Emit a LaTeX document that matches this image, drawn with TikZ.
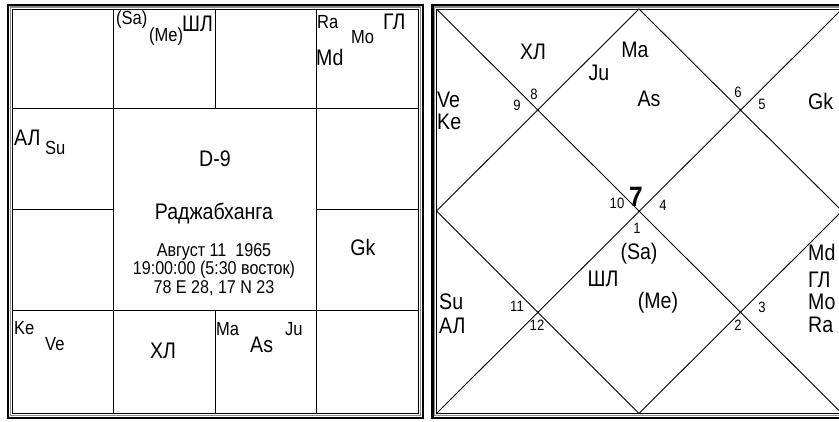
\documentclass[tikz,border=0pt]{standalone}
\usepackage{fontspec}
\setmainfont{Liberation Sans}[FakeStretch=0.87]
\begin{document}
\begin{tikzpicture}[x=1pt,y=-1pt,
  gridline/.style={line width=0.9pt, black},
  frameout/.style={line width=2.2pt, black},
  framegrey/.style={line width=1.6pt, black!45},
  framein/.style={line width=1pt, black},
  sm/.style={font=\fontsize{19}{19}\selectfont, inner sep=0pt},
  bg/.style={font=\fontsize{22.5}{22.5}\selectfont, inner sep=0pt},
  ttl/.style={font=\fontsize{22.5}{22.5}\selectfont, inner sep=0pt},
  dt/.style={font=\fontsize{18.5}{18.5}\selectfont, inner sep=0pt},
  num/.style={font=\fontsize{15}{15}\selectfont, inner sep=0pt},
  big/.style={font=\fontsize{28}{28}\selectfont\bfseries, inner sep=0pt},
  dot/.style={circle, fill=black, inner sep=0pt, minimum size=2.4pt}]
\useasboundingbox (0,0) rectangle (839,421);
\fill[white] (0,0) rectangle (839,421);
% ---------- left chart frame ----------
\draw[frameout] (8,5) rectangle (423,418);
\draw[framegrey] (10.4,7.2) rectangle (420.6,415.6);
\draw[framein] (12.5,9) rectangle (418.5,413.5);
% grid
\draw[gridline] (12.5,108.5) -- (418.5,108.5);
\draw[gridline] (12.5,310) -- (418.5,310);
\draw[gridline] (12.5,209) -- (113.5,209);
\draw[gridline] (316.5,209) -- (418.5,209);
\draw[gridline] (113.5,9) -- (113.5,413.5);
\draw[gridline] (316.5,9) -- (316.5,413.5);
\draw[gridline] (215,9) -- (215,108.5);
\draw[gridline] (215,310) -- (215,413.5);
% ---------- right chart frame ----------
\draw[frameout] (432.5,5) rectangle (849,418);
\draw[framegrey] (434.4,7.2) rectangle (847,415.6);
\draw[framein] (436.5,9) rectangle (845,413.5);
\draw[gridline] (436.5,9) -- (842,413.5);
\draw[gridline] (842,9) -- (436.5,413.5);
\draw[gridline] (639,9) -- (842,211) -- (639,413.5) -- (436.5,211) -- cycle;
\node[dot] (d1) at (538,110) {};
\node[dot] (d2) at (740.5,110) {};
\node[dot] (d3) at (639,211) {};
\node[dot] (d4) at (538,312) {};
\node[dot] (d5) at (740.5,312) {};
% ---------- left chart texts ----------
\node[sm,anchor=west] (lsa) at (116,20) {(Sa)};
\node[sm,anchor=west] (lme) at (149,37) {(Me)};
\node[bg,anchor=west] (lsl) at (182,24) {ШЛ};
\node[sm,anchor=west] (lra) at (317,22) {Ra};
\node[sm,anchor=west] (lmo) at (351,37) {Mo};
\node[bg,anchor=west] (lgl) at (383,22) {ГЛ};
\node[bg,anchor=west] (lmd) at (316,57) {Md};
\node[bg,anchor=west] (lal) at (14,138) {АЛ};
\node[sm,anchor=west] (lsu) at (45,148) {Su};
\node[ttl] (ttl) at (215,159) {D-9};
\node[ttl] (nm) at (214,213) {Раджабханга};
\node[dt] (dt1) at (214,252) {Август 11\ \ 1965};
\node[dt] (dt2) at (214,270) {19:00:00 (5:30 восток)};
\node[dt] (dt3) at (214,288) {78 E 28, 17 N 23};
\node[bg] (lgk) at (363,247) {Gk};
\node[sm,anchor=west] (lke) at (14,328) {Ke};
\node[sm,anchor=west] (lve) at (45,344) {Ve};
\node[bg] (lxl) at (163,351) {ХЛ};
\node[sm,anchor=west] (lma) at (216,329) {Ma};
\node[sm,anchor=west] (lju) at (285,329) {Ju};
\node[bg,anchor=west] (las) at (250,345) {As};
% ---------- right chart texts ----------
\node[bg] (rxl) at (533,52) {ХЛ};
\node[bg] (rma) at (635,50) {Ma};
\node[bg] (rju) at (599,73) {Ju};
\node[bg] (ras) at (649,99) {As};
\node[bg,anchor=west] (rve) at (437,100) {Ve};
\node[bg,anchor=west] (rke) at (437,122) {Ke};
\node[bg,anchor=west] (rgk) at (808,101) {Gk};
\node[num] (n9) at (517,105) {9};
\node[num] (n8) at (534,94) {8};
\node[num] (n6) at (738,92) {6};
\node[num] (n5) at (762,104) {5};
\node[num] (n10) at (617,203) {10};
\node[big] (n7) at (636,197) {7};
\node[num] (n4) at (663,205) {4};
\node[num] (n1) at (637,228) {1};
\node[bg] (rsa) at (639,254) {(Sa)};
\node[bg] (rsl) at (603,279) {ШЛ};
\node[bg] (rme) at (658,303) {(Me)};
\node[bg,anchor=west] (rsu) at (439,302) {Su};
\node[bg,anchor=west] (ral) at (439,326) {АЛ};
\node[num] (n11) at (517,306) {11};
\node[num] (n12) at (537,325) {12};
\node[num] (n2) at (738,325) {2};
\node[num] (n3) at (762,307) {3};
\node[bg,anchor=west] (rmd) at (808,252) {Md};
\node[bg,anchor=west] (rgl) at (808,280) {ГЛ};
\node[bg,anchor=west] (rmo) at (808,302) {Mo};
\node[bg,anchor=west] (rra) at (808,325) {Ra};
\end{tikzpicture}
\end{document}
